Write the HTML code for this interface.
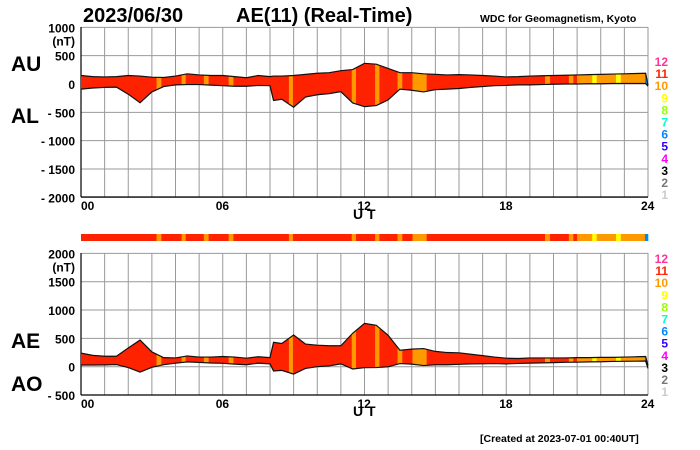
<!DOCTYPE html>
<html><head><meta charset="utf-8"><style>
body{margin:0;background:#fff;}
svg{display:block;font-family:"Liberation Sans",sans-serif;}
</style></head><body>
<svg id="chart" width="700" height="450" viewBox="0 0 700 450" xmlns="http://www.w3.org/2000/svg">
<text x="83" y="22" font-size="20" font-weight="bold">2023/06/30</text>
<text x="236" y="22" font-size="20" font-weight="bold">AE(11) (Real-Time)</text>
<text x="480" y="22" font-size="10.5" font-weight="bold">WDC for Geomagnetism, Kyoto</text>
<text x="11" y="71" font-size="21" font-weight="bold">AU</text>
<text x="11" y="123" font-size="21" font-weight="bold">AL</text>
<text x="11" y="348" font-size="21" font-weight="bold">AE</text>
<text x="11" y="391" font-size="21" font-weight="bold">AO</text>
<text x="353" y="219" font-size="14" font-weight="bold">U T</text>
<text x="353" y="416" font-size="14" font-weight="bold">U T</text>
<text x="480" y="442" font-size="10.5" font-weight="bold">[Created at 2023-07-01 00:40UT]</text>
<g id="g"></g>
</svg>
<script>
const hours=[0,0.5,1,1.5,2,2.5,3,3.5,4,4.5,5,5.5,6,6.5,7,7.5,8,8.15,8.5,9,9.5,10,10.5,11,11.5,12,12.5,13,13.5,14,14.5,15,15.5,16,16.5,17,17.5,18,18.5,19,19.5,20,20.5,21,21.5,22,22.5,23,23.5,23.9,24];
const au=[150,130,125,130,150,140,120,115,140,180,160,150,150,130,110,150,130,140,140,150,170,190,200,235,255,365,350,275,200,200,180,170,160,165,160,150,140,125,130,140,145,150,155,160,165,170,175,180,185,190,-20];
const al=[-90,-70,-60,-55,-180,-330,-140,-45,-15,-10,-10,-20,-30,-40,-40,-25,-30,-290,-270,-410,-230,-190,-170,-135,-335,-400,-380,-280,-90,-110,-140,-100,-90,-80,-60,-45,-30,-25,-15,-15,-10,-5,0,0,5,5,10,10,10,10,-40];
const segStart=[0,3.2,3.4,4.26,4.43,5.2,5.4,6.25,6.45,8.8,8.97,11.46,11.64,12.45,12.63,13.4,13.6,14.03,14.63,19.64,19.85,20.65,20.84,21,21.64,21.83,22.65,22.85,23.87];
const segEnd=[3.2,3.4,4.26,4.43,5.2,5.4,6.25,6.45,8.8,8.97,11.46,11.64,12.45,12.63,13.4,13.6,14.03,14.63,19.64,19.85,20.65,20.84,21,21.64,21.83,22.65,22.85,23.87,24];
const segCount=[11,10,11,10,11,10,11,10,11,10,11,10,11,10,11,10,11,10,11,10,11,10,11,10,9,10,9,10,6];
const topTicks=[1000,500,0,-500,-1000,-1500,-2000];
const topTickLabels=["1000","500","0","- 500","- 1000","- 1500","- 2000"];
const botTicks=[2000,1500,1000,500,0,-500];
const botTickLabels=["2000","1500","1000","500","0","- 500"];
const hourTicks=[0,6,12,18,24];
const hourLabels=["00","06","12","18","24"];
const legendNums=[12,11,10,9,8,7,6,5,4,3,2,1];
const legendColors=["#ff3399","#ff2200","#ff9900","#ffff00","#99ff00","#00ffcc","#0088ff","#3300ff","#ff00ff","#000000","#777777","#cccccc"];
const NS="http://www.w3.org/2000/svg";
const g=document.getElementById('g');
const X0=81,X1=648;
const x=h=>X0+h*(X1-X0)/24;
const yTop=v=>84-v*28.33/500;
const yBot=v=>366.7-v*28.33/500;
function el(t,a,p){const e=document.createElementNS(NS,t);for(const k in a)e.setAttribute(k,a[k]);(p||g).appendChild(e);return e;}
function colorOf(c){return legendColors[legendNums.indexOf(c)];}
function panel(id,yf,ticks,labels,yT,yB,upper,lower){
  const grid=el('g',{});
  
  
  for(let h=0;h<=24;h++)el('line',{x1:x(h),x2:x(h),y1:yT,y2:yB,stroke:'#999','stroke-width':1},grid);
  ticks.forEach((v,i)=>{
    el('line',{x1:X0,x2:X1,y1:yf(v),y2:yf(v),stroke:'#999','stroke-width':1},grid);
    const t=el('text',{x:75,y:yf(v)+5,'font-size':12,'font-weight':'bold','text-anchor':'end'});
    
    
    t.textContent=labels[i];
  });
  const u=el('text',{x:75,y:yf(ticks[0])+18,'font-size':12,'font-weight':'bold','text-anchor':'end'});
  
  
  u.textContent='(nT)';
  hourTicks.forEach((h,i)=>{
    const t=el('text',{x:x(h)-(i==0?0:7),y:yB+13,'font-size':12,'font-weight':'bold'});
    
    
    t.textContent=hourLabels[i];
  });
  el('line',{x1:X0,x2:X0,y1:yT,y2:yB,stroke:'#000','stroke-width':1.2});
  el('line',{x1:X0,x2:X1,y1:yB,y2:yB,stroke:'#000','stroke-width':1.2});
  let up=hours.map((h,i)=>x(h)+','+yf(upper[i]));
  let lo=hours.map((h,i)=>x(h)+','+yf(lower[i])).reverse();
  const pts=up.concat(lo).join(' ');
  const cp=el('clipPath',{id:id+'-clip'});
  el('polygon',{points:pts},cp);
  const fill=el('g',{'clip-path':'url(#'+id+'-clip)'});
  
  
  segCount.forEach((c,i)=>{
    const r=el('rect',{x:x(segStart[i]),y:yT,width:x(segEnd[i])-x(segStart[i])+0.3,height:yB-yT,fill:colorOf(c)},fill);
    
    
  });
  const l1=el('polyline',{points:up.join(' '),fill:'none',stroke:'#111','stroke-width':1.2});
  
  
  const l2=el('polyline',{points:lo.join(' '),fill:'none',stroke:'#111','stroke-width':1.2});
  
  
}
panel('top',yTop,topTicks,topTickLabels,27,197,au,al);
const ae=au.map((v,i)=>v-al[i]);
const ao=au.map((v,i)=>(v+al[i])/2);
panel('bottom',yBot,botTicks,botTickLabels,253,395,ae,ao);
const bar=el('g',{});


segCount.forEach((c,i)=>{
  const r=el('rect',{x:x(segStart[i]),y:234,width:x(segEnd[i])-x(segStart[i])+0.3,height:7,fill:colorOf(c)},bar);
  
  
});
[61,258].forEach((y0,k)=>{
  const lg=el('g',{});
  
  
  legendNums.forEach((n,i)=>{
    const t=el('text',{x:668,y:y0+5+i*12.1,'font-size':12,'font-weight':'bold','text-anchor':'end',fill:legendColors[i]},lg);
    
    
    t.textContent=n;
  });
});
</script>
</body></html>
